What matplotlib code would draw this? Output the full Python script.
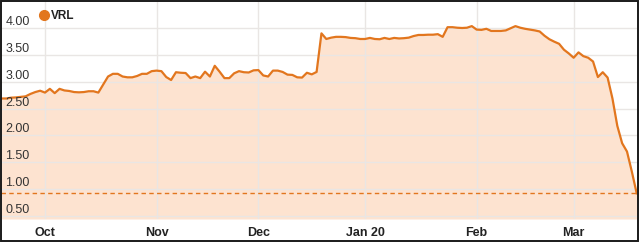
import numpy as np
import pandas as pd
import matplotlib
matplotlib.use("Agg")
import matplotlib.pyplot as plt
from matplotlib.lines import Line2D
from matplotlib.patches import Rectangle
import matplotlib.transforms as mtransforms

plt.rcParams['font.family'] = ['Liberation Sans', 'DejaVu Sans']

# ---- data ----
series_name = "VRL"
start_date = "2019-09-18"
end_date = "2020-03-19"
prices = [
    2.69, 2.69, 2.705, 2.71, 2.72, 2.73, 2.775, 2.81, 2.835, 2.80,
    2.87, 2.79, 2.87, 2.84, 2.83, 2.81, 2.805, 2.81, 2.825, 2.825,
    2.80, 2.95, 3.10, 3.15, 3.15, 3.10, 3.085, 3.085, 3.11, 3.15,
    3.15, 3.20, 3.21, 3.20, 3.09, 3.035, 3.18, 3.17, 3.165, 3.07,
    3.10, 3.07, 3.19, 3.10, 3.30, 3.19, 3.07, 3.07, 3.16, 3.20,
    3.18, 3.175, 3.215, 3.22, 3.12, 3.10, 3.21, 3.21, 3.185, 3.135,
    3.13, 3.085, 3.08, 3.17, 3.14, 3.185, 3.905, 3.80, 3.825, 3.84,
    3.84, 3.835, 3.82, 3.815, 3.80, 3.80, 3.82, 3.80, 3.795, 3.82,
    3.80, 3.82, 3.81, 3.815, 3.825, 3.855, 3.875, 3.875, 3.88, 3.88,
    3.89, 3.84, 4.02, 4.02, 4.01, 4.005, 4.01, 4.04, 3.975, 3.97,
    3.99, 3.95, 3.95, 3.95, 3.96, 4.00, 4.04, 4.01, 3.99, 3.975,
    3.96, 3.94, 3.86, 3.795, 3.75, 3.71, 3.60, 3.53, 3.45, 3.55,
    3.48, 3.45, 3.38, 3.09, 3.18, 3.08, 2.69, 2.18, 1.855, 1.70,
    1.325, 0.92,
]
month_labels = ["Oct", "Nov", "Dec", "Jan 20", "Feb", "Mar"]
y_ticks = [0.50, 1.00, 1.50, 2.00, 2.50, 3.00, 3.50, 4.00]

# ---- style ----
line_color = "#E2761E"
fill_color = "#FDE3D0"
grid_color = "#E9E6E4"
text_color = "#333333"

dates = pd.bdate_range(start_date, end_date)
x = np.arange(len(dates))
vals = np.array(prices)

month_pos = [i for i in range(1, len(dates)) if dates[i].month != dates[i - 1].month]

W, H = 640, 244
fig = plt.figure(figsize=(W / 100, H / 100), dpi=100)
fig.patch.set_facecolor("white")
ax = fig.add_axes([1.35 / W, 1 - 219 / H, 635.35 / W, 217 / H])
ymin, ymax = 0.442, 4.49
ax.set_xlim(0, len(dates) - 1)
ax.set_ylim(ymin, ymax)
for s in ax.spines.values():
    s.set_visible(False)

ax.fill_between(x, vals, ymin, color=fill_color, lw=0, zorder=1)
for yv in y_ticks:
    ax.axhline(yv, color=grid_color, lw=1.0, zorder=2)
for xp in month_pos:
    ax.axvline(xp, color=grid_color, lw=1.0, zorder=2)
ax.axhline(vals[-1], color=line_color, lw=1.0, ls=(0, (3.2, 2.4)), zorder=3)
ax.plot(x, vals, color=line_color, lw=1.6, zorder=4, solid_joinstyle="round")

ax.set_yticks([])
ax.set_xticks(month_pos)
ax.set_xticklabels(month_labels, fontsize=9, fontweight="bold", color="#222222")
ax.tick_params(axis="x", length=0, pad=6)

trans = mtransforms.blended_transform_factory(ax.transAxes, ax.transData)
for yv in y_ticks:
    ax.text(0.0065, yv, f"{yv:.2f}", transform=trans, ha="left", va="bottom",
            fontsize=9, color=text_color, zorder=5)

handle = Line2D([], [], marker="o", color=line_color, linestyle="", markersize=7)
leg = fig.legend([handle], [series_name], loc="center left",
                 bbox_to_anchor=(39 / W, 1 - 16 / H), frameon=False,
                 borderpad=0, borderaxespad=0, handlelength=0.8,
                 handletextpad=0.2, prop={"size": 8.5, "weight": "bold"})
for t in leg.get_texts():
    t.set_color("#222222")

fig.add_artist(Rectangle((1 / W, 1 - 240.5 / H), 637 / W, 239.5 / H,
                         transform=fig.transFigure, fill=False,
                         edgecolor="#1a1a1a", lw=1.4))

fig.savefig("out.png", dpi=100, facecolor="white")
